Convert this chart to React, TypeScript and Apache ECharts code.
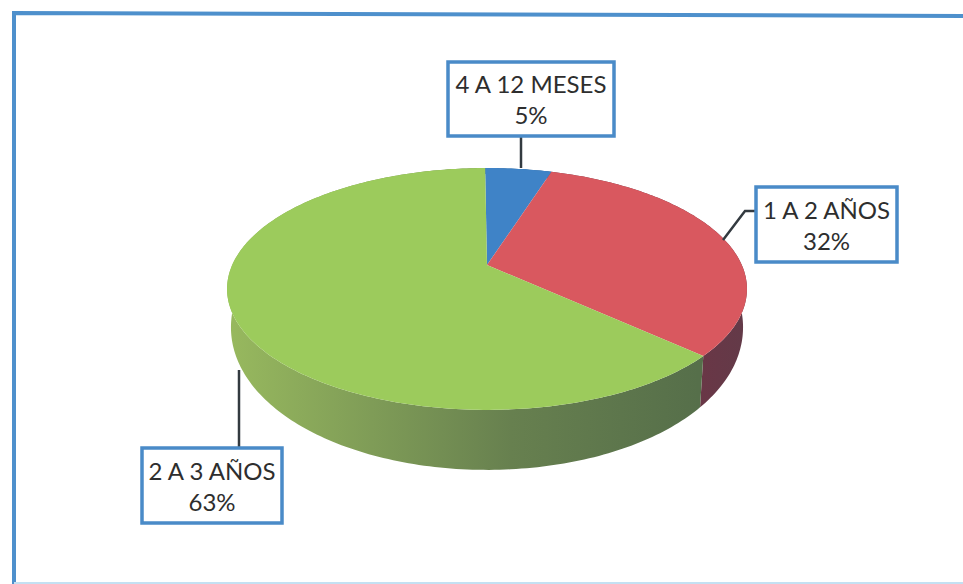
import React, { useEffect, useRef } from "react";
import * as echarts from "echarts";

const categories = ["4 A 12 MESES", "1 A 2 AÑOS", "2 A 3 AÑOS"];
const values = [5, 32, 63];
const topColors = ["#3F83C7", "#D9585F", "#9CCB5C"];

const CX = 487, CY = 265, A = 254.8, B = 116.2, K = -0.198;
const START = -0.5;

function project(deg: number): number[] {
  const t = (deg * Math.PI) / 180;
  const u = Math.sin(t), v = -Math.cos(t);
  const den = 1 + K * v;
  return [CX + (A * u) / den, CY + (B * v) / den];
}
function projectBottom(deg: number): number[] {
  const t = (deg * Math.PI) / 180;
  const v = -Math.cos(t);
  const p = project(deg);
  return [CX + (p[0] - CX) * 0.985, p[1] + 33 + 27 * v];
}
function arc(from: number, to: number, fn: (d: number) => number[]): number[][] {
  const pts: number[][] = [];
  const n = Math.max(2, Math.ceil(Math.abs(to - from)));
  for (let i = 0; i <= n; i++) pts.push(fn(from + ((to - from) * i) / n));
  return pts;
}
function sliceRange(i: number): number[] {
  const total = values.reduce((a, b) => a + b, 0);
  const before = values.slice(0, i).reduce((a, b) => a + b, 0);
  return [START + (before / total) * 360, START + ((before + values[i]) / total) * 360];
}

const wallFill = [
  "#2F6396",
  new echarts.graphic.LinearGradient(690, 0, 745, 0, [
    { offset: 0, color: "#6B3646" },
    { offset: 1, color: "#633A48" },
  ], true),
  new echarts.graphic.LinearGradient(232, 0, 698, 0, [
    { offset: 0, color: "#97B85E" },
    { offset: 0.3, color: "#7F9C57" },
    { offset: 0.6, color: "#67804F" },
    { offset: 1, color: "#566F4A" },
  ], true),
];

const boxes = [
  { x: 448, y: 62, w: 166, h: 74, leader: [[521, 136], [521, 168]] },
  { x: 756, y: 187, w: 141, h: 75, leader: [[723, 240], [745, 211], [756, 211]] },
  { x: 142, y: 448, w: 140, h: 75, leader: [[239, 370], [239, 448]] },
];

export default function App() {
  const ref = useRef<HTMLDivElement>(null);
  useEffect(() => {
    document.body.style.margin = "0";
    const chart = echarts.init(ref.current!, undefined, { renderer: "svg" });
    const rows = values.map((v, i) => ({ name: categories[i], value: [v, i] }));
    const graphics: any[] = [
      {
        type: "polyline",
        z: 0,
        shape: { points: [[14, 590], [14, 13], [970, 16]] },
        style: { stroke: "#4E90CC", lineWidth: 4, fill: "none" },
      },
      {
        type: "line",
        z: 0,
        shape: { x1: 14, y1: 583, x2: 963, y2: 583 },
        style: { stroke: "#C4E0F2", lineWidth: 2 },
      },
    ];
    boxes.forEach((b, i) => {
      graphics.push({
        type: "polyline",
        z: 5,
        shape: { points: b.leader },
        style: { stroke: "#333A40", lineWidth: 2.5, fill: "none" },
      });
      graphics.push({
        type: "rect",
        z: 6,
        shape: { x: b.x, y: b.y, width: b.w, height: b.h },
        style: { fill: "#FFFFFF", stroke: "#4A8BC8", lineWidth: 3.5 },
      });
      graphics.push({
        type: "text",
        z: 7,
        x: b.x + b.w / 2,
        y: b.y + b.h / 2,
        style: {
          text: `${categories[i]}\n${values[i]}%`,
          fill: "#2E2E2E",
          font: '24px Lato, "Open Sans", sans-serif',
          lineHeight: 31,
          align: "center",
          verticalAlign: "middle",
        },
      });
    });
    chart.setOption({
      animation: false,
      backgroundColor: "#FFFFFF",
      graphic: graphics,
      series: [
        {
          type: "custom",
          coordinateSystem: "none",
          silent: true,
          z: 2,
          data: rows,
          renderItem: (_p: any, api: any) => {
            const i = api.value(1);
            const [s, e] = sliceRange(i);
            const top = arc(s, e, project);
            const bot = arc(s, e, projectBottom).reverse();
            return {
              type: "polygon",
              shape: { points: top.concat(bot) },
              style: { fill: wallFill[i] },
            };
          },
        },
        {
          type: "custom",
          coordinateSystem: "none",
          silent: true,
          z: 3,
          data: rows,
          renderItem: (_p: any, api: any) => {
            const i = api.value(1);
            const [s, e] = sliceRange(i);
            return {
              type: "polygon",
              shape: { points: [[CX, CY], ...arc(s, e, project)] },
              style: { fill: topColors[i] },
            };
          },
        },
      ],
    });
    return () => chart.dispose();
  }, []);
  return <div ref={ref} style={{ width: 963, height: 584 }} />;
}
